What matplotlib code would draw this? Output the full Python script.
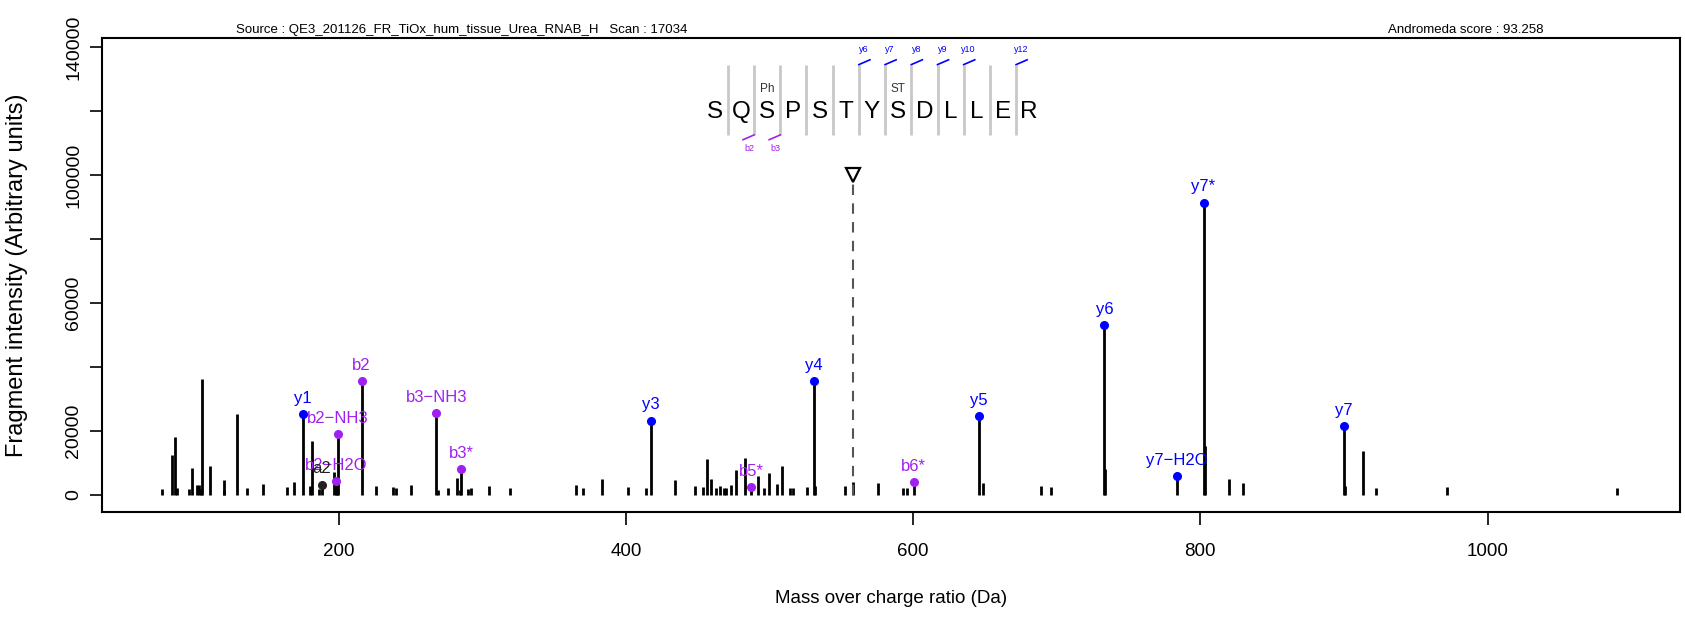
import numpy as np
import matplotlib
matplotlib.use("Agg")
import matplotlib.pyplot as plt

plt.rcParams['font.family'] = ['Liberation Sans', 'DejaVu Sans']

# unannotated fragment peaks (m/z, intensity)
peak_mz = [77.0, 83.8, 85.9, 87.3, 95.9, 97.7, 101.2, 102.3, 103.7, 104.9,
           110.0, 119.8, 120.3, 129.1, 136.1, 147.2, 163.9, 169.0, 180.1, 181.1,
           186.0, 196.7, 198.4, 226.1, 237.8, 240.1, 250.3,
           268.8, 276.1, 282.3, 284.6, 290.0, 292.1, 304.4, 319.0, 365.2, 370.3,
           383.3, 401.5, 414.2, 433.9, 447.8,
           453.7, 456.5, 459.5, 463.0, 465.3, 468.1, 469.4, 473.4, 476.9, 482.7,
           491.7, 496.4, 499.9, 505.2, 508.9, 514.0, 516.4, 526.1, 531.9, 552.8,
           557.9, 575.6, 592.7, 595.8, 648.7,
           689.3, 696.3, 733.8, 802.9, 820.1, 829.6,
           900.5, 913.2, 922.0, 971.9, 1089.9]
peak_int = [1700, 12400, 18000, 1900, 1700, 8200, 3000, 3000, 1700, 36000,
            8800, 4500, 1500, 25300, 2200, 3200, 2500, 3800, 2800, 16900,
            1700, 7100, 3000, 2700, 2400, 2000, 3000,
            1400, 2200, 5100, 1500, 1700, 1900, 2700, 1900, 3000, 2200,
            4800, 2500, 2200, 4400, 2700,
            2500, 11100, 4800, 2200, 2700, 2000, 2000, 3000, 7800, 11300,
            5900, 2200, 6600, 3200, 9000, 2000, 2000, 2400, 2800, 2600,
            3900, 3500, 2000, 2200, 3500,
            2700, 2400, 8000, 15300, 4800, 3600,
            2600, 13500, 2200, 2300, 1900]

# annotated fragment ions
ion_labels = ['y1', 'b2', 'b2\u2212NH3', 'b2\u2212H2O', 'a2', 'b3\u2212NH3', 'b3*', 'y3',
              'b5*', 'y4', 'b6*', 'y5', 'y6', 'y7\u2212H2O', 'y7*', 'y7']
ion_mz = [174.8, 215.9, 199.2, 198.0, 188.0, 267.9, 285.1, 417.2,
          487.3, 530.7, 600.4, 645.7, 733.2, 783.9, 802.2, 899.9]
ion_int = [25100, 35500, 18800, 4200, 3050, 25500, 7900, 23100,
           2300, 35500, 3900, 24600, 53000, 5800, 91300, 21400]

precursor_mz = 558.2
precursor_mark = 100000

sequence = list("SQSPSTYSDLLER")
mods = {2: 'Ph', 7: 'ST'}
y_marks = {5: 'y6', 6: 'y7', 7: 'y8', 8: 'y9', 9: 'y10', 11: 'y12'}
b_marks = {1: 'b2', 2: 'b3'}

source_txt = "Source : QE3_201126_FR_TiOx_hum_tissue_Urea_RNAB_H   Scan : 17034"
score_txt = "Andromeda score : 93.258"

BLUE = '#0000FF'
PURPLE = '#A020F0'

fig = plt.figure(figsize=(16.85, 6.17), dpi=100)
ax = fig.add_axes([0.0605, 0.170, 0.9365, 0.768])

ax.vlines(peak_mz, 0, peak_int, color='black', lw=2)
ax.vlines(ion_mz, 0, ion_int, color='black', lw=2)

for lab, mz, it in zip(ion_labels, ion_mz, ion_int):
    col = BLUE if lab.startswith('y') else (PURPLE if lab.startswith('b') else '#222222')
    ax.plot(mz, it, 'o', color=col, ms=5.5, zorder=4)
    ax.annotate(lab, (mz, it), xytext=(0, 6), textcoords='offset points',
                ha='center', va='bottom', color=col, fontsize=12)

# precursor
ax.vlines(precursor_mz, 0, precursor_mark - 2500, color='#555555', lw=1.5,
          linestyles=(0, (5, 4)))
ax.plot(precursor_mz, precursor_mark, marker='v', ms=10, mfc='white',
        mec='black', mew=1.6, zorder=5)

# peptide sequence with fragment marks
x0, dx = 461.8, 18.25
y_let, y_lo, y_hi = 119800, 112500, 134500
for i, aa in enumerate(sequence):
    ax.text(x0 + i * dx, y_let, aa, ha='center', va='center', fontsize=17.5)
    if i in mods:
        ax.text(x0 + i * dx, 127000, mods[i], ha='center', va='center',
                fontsize=8.5, color='#333333')
for j in range(len(sequence) - 1):
    sx = x0 + (j + 0.5) * dx
    ax.plot([sx, sx], [y_lo, y_hi], color='#C8C8C8', lw=2, solid_capstyle='butt')
    if j in y_marks:
        ax.plot([sx, sx + 7.7], [y_hi, y_hi + 1500], color=BLUE, lw=1.2)
        ax.text(sx + 3.5, 139300, y_marks[j], ha='center', va='center',
                fontsize=6.5, color=BLUE)
    if j in b_marks:
        ax.plot([sx, sx - 7.7], [y_lo, y_lo - 1500], color=PURPLE, lw=1.2)
        ax.text(sx - 3.5, 108300, b_marks[j], ha='center', va='center',
                fontsize=6.5, color=PURPLE)

ax.set_xlim(35, 1134)
ax.set_ylim(-5490, 142740)
ax.set_xticks([200, 400, 600, 800, 1000])
ax.set_yticks(range(0, 140001, 20000))
ax.set_yticklabels(['0', '20000', '', '60000', '', '100000', '', '140000'],
                   rotation=90, va='center')
ax.tick_params(direction='out', width=1.2, labelsize=13.5)
ax.tick_params(axis='x', length=9, pad=13)
ax.tick_params(axis='y', length=9, pad=5, labelsize=14)
for s in ax.spines.values():
    s.set_linewidth(1.5)

ax.set_xlabel('Mass over charge ratio (Da)', fontsize=13.5)
ax.xaxis.set_label_coords(0.5, -0.165)
ax.set_ylabel('Fragment intensity (Arbitrary units)', fontsize=17)
ax.yaxis.set_label_coords(-0.047, 0.5)

ax.text(0.228, 1.004, source_txt, transform=ax.transAxes, ha='center',
        va='bottom', fontsize=9.5)
ax.text(0.864, 1.004, score_txt, transform=ax.transAxes, ha='center',
        va='bottom', fontsize=9.5)

fig.savefig('out.png', dpi=100)
